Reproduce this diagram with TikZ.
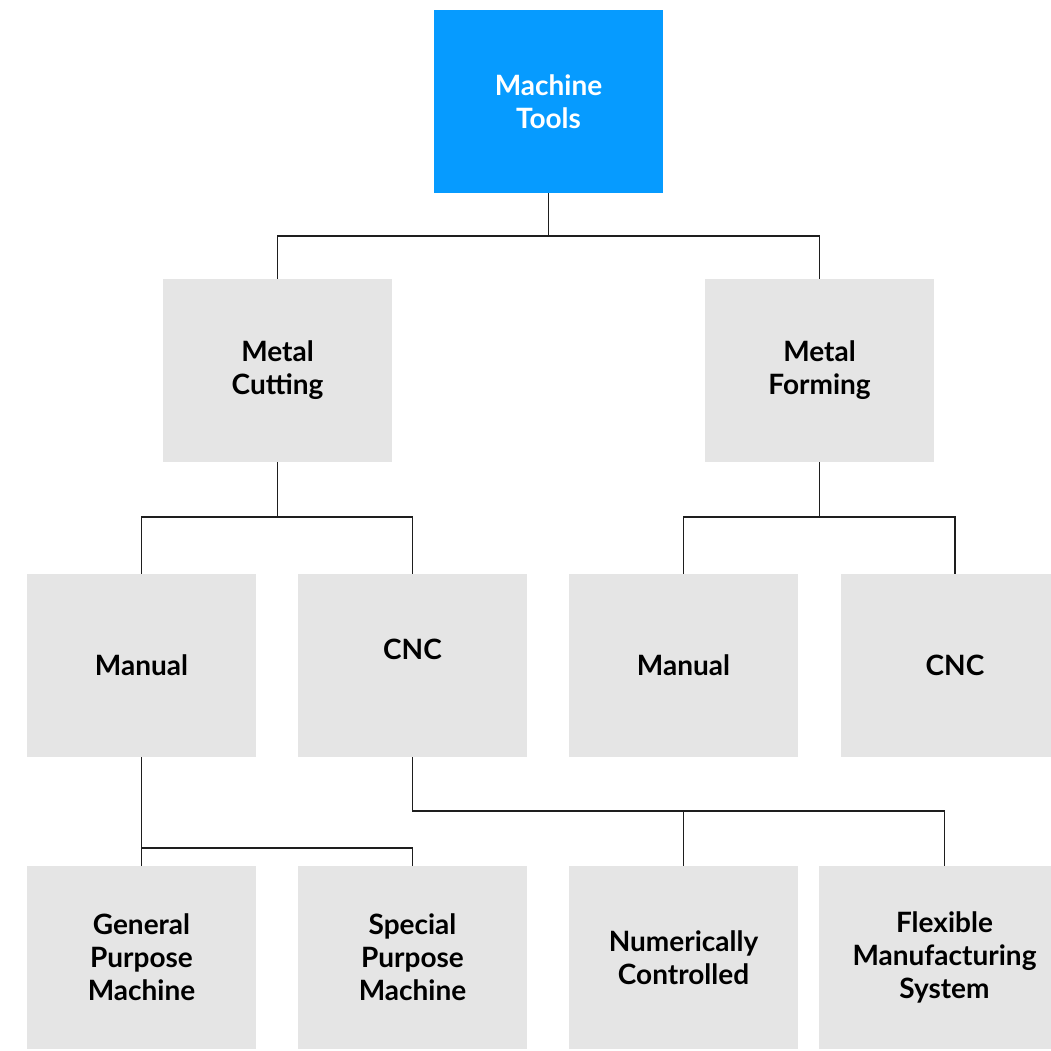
\documentclass[tikz,border=0pt]{standalone}
\usepackage{fontspec}
\setmainfont{Lato}
\usepackage{tikz}
\usetikzlibrary{positioning, calc}
\definecolor{toolblue}{RGB}{6,155,255}
\definecolor{boxgray}{RGB}{229,229,229}
\definecolor{linegray}{RGB}{30,30,30}

\tikzset{
  box/.style={fill=boxgray, minimum width=229pt, minimum height=183pt, inner sep=0pt,
    align=center, font=\fontsize{28}{33}\selectfont\bfseries},
  topbox/.style={box, fill=toolblue, text=white},
  link/.style={draw=linegray, line width=1.5pt}
}

\begin{document}
\begin{tikzpicture}[x=1pt, y=-1pt]
  \useasboundingbox (0,0) rectangle (1051,1050);
  \clip (0,0) rectangle (1051,1050);
  % boxes
  \node[topbox] (tools) at (548.5,101.5) {Machine\\Tools};
  \node[box] (cut) at (277.5,370.5) {Metal\\Cutting};
  \node[box] (form) at (819.5,370.5) {Metal\\Forming};
  \node[box] (cutman) at (141.5,665.5) {Manual};
  \node[box] (cutcnc) at (412.5,665.5) {CNC\\\phantom{X}};
  \node[box] (formman) at (683.5,665.5) {Manual};
  \node[box] (formcnc) at (955,665.5) {CNC};
  \node[box] (gpm) at (141.5,957.5) {General\\Purpose\\Machine};
  \node[box] (spm) at (412.5,957.5) {Special\\Purpose\\Machine};
  \node[box] (nc) at (683.5,957.5) {Numerically\\Controlled};
  \node[box, minimum width=251pt] (fms) at (944.5,957.5) {Flexible\\Manufacturing\\System};
  % links
  \draw[link] (tools.south) -- ++(0,43) -| (cut.north);
  \draw[link] (tools.south) -- ++(0,43) -| (form.north);
  \draw[link] (cut.south) -- ++(0,55) -| (cutman.north);
  \draw[link] (cut.south) -- ++(0,55) -| (cutcnc.north);
  \draw[link] (form.south) -- ++(0,55) -| (formman.north);
  \draw[link] (form.south) -- ++(0,55) -| (formcnc.north);
  \draw[link] (cutman.south) -- (gpm.north);
  \draw[link] (cutman.south) -- ++(0,91) -| (spm.north);
  \draw[link] (cutcnc.south) -- ++(0,54) -| (nc.north);
  \draw[link] (cutcnc.south) -- ++(0,54) -| (fms.north);
\end{tikzpicture}
\end{document}
